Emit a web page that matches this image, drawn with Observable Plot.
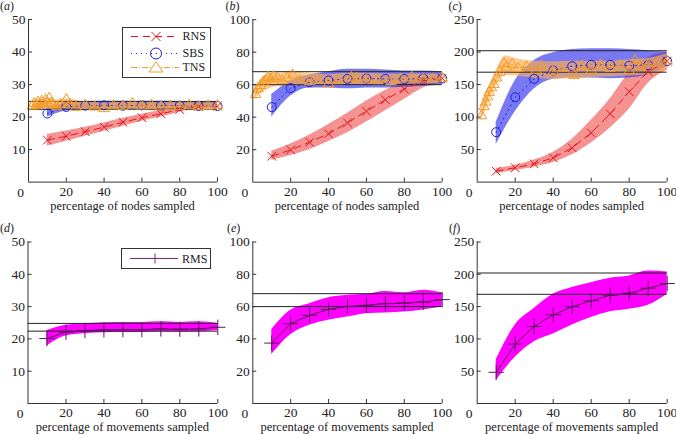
<!DOCTYPE html>
<html><head><meta charset="utf-8">
<script src="https://cdn.jsdelivr.net/npm/d3@7"></script>
<script src="https://cdn.jsdelivr.net/npm/@observablehq/plot@0.6"></script>
<style>
body{margin:0;background:#fff;}
#fig{position:relative;width:676px;height:434px;overflow:hidden;font-family:"Liberation Serif","Times New Roman",serif;color:#222;}
.panel{position:absolute;}
.plab{position:absolute;font-size:12px;line-height:12px;}
.xlab{position:absolute;font-size:12.5px;line-height:13px;text-align:center;width:240px;white-space:nowrap;}
.legend{position:absolute;background:#fff;border:1px solid #333;box-sizing:border-box;}
.legend svg{position:absolute;left:0;top:0;}
.legend span{position:absolute;font-size:12px;line-height:12px;}
</style></head><body><div id="fig"></div>
<script>
// ---------- data ----------
const xs = [10,20,30,40,50,60,70,80,90,100];
const xTicks = [20,40,60,80,100];

// panel (a)
const aRNS   = [12.9,14.1,15.5,16.9,18.4,19.8,21.0,22.3,23.2,23.4];
const aRNSlo = [11.1,12.6,14.1,15.6,17.2,18.7,20.0,21.5,22.6,23.0];
const aRNShi = [14.6,15.7,16.9,18.2,19.6,20.9,22.0,23.1,23.8,23.8];
const aSBS   = [21.1,23.1,23.5,23.6,23.5,23.6,23.5,23.5,23.4,23.4];
const aSBSlo = [20.0,21.9,22.4,22.4,22.4,22.4,22.4,22.4,22.6,22.8];
const aSBShi = [22.2,24.4,24.8,24.9,24.9,24.9,24.9,24.8,24.7,24.5];
const aTNSx  = [2,3,4,5,6,7,8,9,10,11,12,13,15,17,20,22,25,30,35,40,45,50,55,60,65,70,75,80,85,90,95,100];
const aTNS   = [23.4,24.2,23.6,24.6,23.9,24.9,24.1,25.2,24.4,25.8,24.3,23.8,23.2,23.9,25.4,23.9,23.0,23.6,23.1,22.6,23.5,23.3,24.2,23.4,23.6,23.1,23.3,23.2,23.6,23.3,23.4,23.5];
const aTNSbx = [2,5,10,15,20,30,40,50,60,70,80,90,100];
const aTNSlo = [22.2,22.3,22.4,22.3,22.5,22.3,22.1,22.4,22.4,22.5,22.5,22.6,22.7];
const aTNShi = [25.0,25.4,25.8,25.2,25.6,24.6,24.2,24.6,24.5,24.4,24.3,24.3,24.3];
const aRef   = [22.4,24.8];
const aYTicks = [10,20,30,40,50];

// panel (b)
const bRNS   = [16.0,19.9,24.6,29.8,36.5,43.7,50.7,57.3,62.5,64.0];
const bRNSlo = [13.5,16.5,20.0,25.0,30.5,37.0,44.0,51.0,58.0,61.0];
const bRNShi = [19.0,23.5,29.0,35.5,42.5,50.0,56.5,62.0,64.5,65.5];
const bSBS   = [46.2,57.9,61.5,62.6,63.6,63.8,63.5,63.5,63.8,63.8];
const bSBSlo = [40,53,58,58,57.5,58,58,58.5,59,60];
const bSBShi = [54,62.5,66,68,69.5,69.5,69,68.5,68.5,68];
const bTNSx  = [1.5,2.7,4.1,5.5,6.7,8,9.4,11,13,15.5,18,21,25,30,34,40,45,52,55,60,66,73,78,84,90,95,100];
const bTNS   = [54,57.5,59.5,61.5,62.5,64.5,63.5,65,64,62.5,64,66,62.5,62,63.5,60.5,62.5,64.5,64,63,62.5,62,63.5,64.5,63.5,63.5,64];
const bTNSbx = [1,5,10,15,20,30,40,50,60,70,80,90,100];
const bTNSlo = [51,55,58,59,59.5,59.5,59.5,60,60,60,60.5,60.5,61];
const bTNShi = [58,64,67,67,68,67,66,67,67,66.5,66.5,66.5,66];
const bRef   = [60,68];
const bYTicks = [20,40,60,80,100];

// panel (c)
const cRNS   = [16.8,22.0,28.1,37.3,52.7,75.7,105,139,170,186];
const cRNSlo = [13,18,23,30,42,60,83,112,152,172];
const cRNShi = [21,26,34,46,66,95,128,168,192,200];
const cSBS   = [76.7,130.5,158.8,171.6,178.2,180.3,180.3,179,180,186];
const cSBSlo = [58,108,143,158,160,160,159,160,165,178];
const cSBShi = [92,156,187,199,204,205,205,204,202,200];
const cTNSx  = [2.3,3.5,4.5,5.4,6.3,7.5,8.8,10.2,12,14.1,15.5,18.5,21.6,26,31,34,40,45,51,55,60,65,70,75,80,83,86,90,95,100];
const cTNS   = [102,116,123,131,138,145,150,160,169,182,177,181,175,177,172,178,170,175,164,178,172,180,175,180,171,187,178,180,183,186];
const cTNSbx = [2,5,10,15,20,30,40,50,60,70,80,90,100];
const cTNSlo = [93,115,148,164,163,160,158,159,161,162,163,165,172];
const cTNShi = [112,135,172,194,190,186,185,186,186,186,188,190,197];
const cRef   = [169,202];
const cYTicks = [50,100,150,200,250];

// panels (d)-(f)
const dRMS   = [20.1,22.1,22.6,22.8,22.9,22.9,23.1,23.0,23.1,23.6];
const dRMSlo = [17.8,20.9,21.6,21.9,22.0,22.0,22.2,22.1,22.2,22.6];
const dRMShi = [22.6,24.2,24.7,25.0,25.1,25.1,25.3,25.1,25.3,24.8];
const eRMS   = [37.4,49.4,54.6,58.3,60.1,60.8,61.8,62.2,62.8,64.3];
const eRMSlo = [30.4,42.6,48.4,51.5,53.5,55.6,56.0,56.6,57.9,59.7];
const eRMShi = [45.7,57.7,61.8,65.5,67.0,67.6,69.4,68.6,70.2,68.6];
const fRMS   = [48.3,92,119.3,137.3,149.7,159,167.7,170.8,178.5,185.7];
const fRMSlo = [35.5,71.5,95.7,107.6,121.4,133,142,146,152,169.3];
const fRMShi = [67.9,121.4,147,169,179.5,187,194,197.5,205,203.7];

const panelLabels = ["a","b","c","d","e","f"];
const xLabelTop = "percentage of nodes sampled";
const xLabelBottom = "percentage of movements sampled";
const legendTop = ["RNS","SBS","TNS"];
const legendBottom = ["RMS"];

// ---------- styles ----------
const C = {
  rns:"#e5141c", rnsBand:"#f26d6d",
  sbs:"#1d1dd6", sbsBand:"#4040f0",
  tns:"#f59a23", tnsBand:"#fdae55",
  rms:"#5e145e", rmsBand:"#ff00ff"
};
const FONT = '"Liberation Serif","Times New Roman",serif';
const TICK_FS = 13.5;

const rows = (x, y, lo, hi) => x.map((d,i) => ({x:d, y:y ? y[i] : null, lo: lo ? lo[i] : null, hi: hi ? hi[i] : null}));

function nodesLayers(rns, rnsLo, rnsHi, sbs, sbsLo, sbsHi, tnsX, tns, tnsBX, tnsLo, tnsHi, ref) {
  const R = rows(xs, rns, rnsLo, rnsHi), S = rows(xs, sbs, sbsLo, sbsHi);
  const T = rows(tnsX, tns), TB = rows(tnsBX, null, tnsLo, tnsHi);
  return [
    Plot.areaY(R, {x:"x", y1:"lo", y2:"hi", fill:C.rnsBand, fillOpacity:0.75, curve:"monotone-x"}),
    Plot.areaY(S, {x:"x", y1:"lo", y2:"hi", fill:C.sbsBand, fillOpacity:0.7, curve:"monotone-x"}),
    Plot.areaY(TB, {x:"x", y1:"lo", y2:"hi", fill:C.tnsBand, fillOpacity:0.65, curve:"monotone-x"}),
    Plot.ruleY(ref, {stroke:"#222", strokeWidth:1}),
    Plot.line(R, {x:"x", y:"y", stroke:C.rns, strokeWidth:1, strokeDasharray:"7,5"}),
    Plot.dot(R, {x:"x", y:"y", symbol:"times", r:4, stroke:C.rns, strokeWidth:1}),
    Plot.line(S, {x:"x", y:"y", stroke:C.sbs, strokeWidth:1, strokeDasharray:"1,4"}),
    Plot.dot(S, {x:"x", y:"y", r:4.5, stroke:C.sbs, fill:"none", strokeWidth:1}),
    Plot.line(T, {x:"x", y:"y", stroke:C.tns, strokeWidth:1, strokeDasharray:"6,2,1,2"}),
    Plot.dot(T, {x:"x", y:"y", symbol:"triangle2", r:5, stroke:C.tns, fill:"none", strokeWidth:1})
  ];
}
function movesLayers(rms, lo, hi, ref) {
  const M = rows(xs, rms, lo, hi);
  return [
    Plot.areaY(M, {x:"x", y1:"lo", y2:"hi", fill:C.rmsBand, curve:"monotone-x"}),
    Plot.ruleY(ref, {stroke:"#222", strokeWidth:1}),
    Plot.line(M, {x:"x", y:"y", stroke:C.rms, strokeWidth:1}),
    Plot.dot(M, {x:"x", y:"y", symbol:"plus", r:5, stroke:C.rms, strokeWidth:1})
  ];
}

// layout: geo = [left, top, axisX, rightX, frameTop, frameBottom], lab = [labelLeft, labelTop]
const panels = [
  {geo:[0,0,28,217,19,181.6], lab:[0,0], yMax:50, yTicks:aYTicks, layers:nodesLayers(aRNS,aRNSlo,aRNShi,aSBS,aSBSlo,aSBShi,aTNSx,aTNS,aTNSbx,aTNSlo,aTNShi,aRef), xl:xLabelTop},
  {geo:[225,0,252.3,441.7,19.2,181.7], lab:[225.5,0], yMax:100, yTicks:bYTicks, layers:nodesLayers(bRNS,bRNSlo,bRNShi,bSBS,bSBSlo,bSBShi,bTNSx,bTNS,bTNSbx,bTNSlo,bTNShi,bRef), xl:xLabelTop},
  {geo:[450,0,476.7,666.7,19,181.6], lab:[448.5,0], yMax:250, yTicks:cYTicks, layers:nodesLayers(cRNS,cRNSlo,cRNShi,cSBS,cSBSlo,cSBShi,cTNSx,cTNS,cTNSbx,cTNSlo,cTNShi,cRef), xl:xLabelTop},
  {geo:[0,217,27.5,217.3,241.5,403], lab:[0,222], yMax:50, yTicks:aYTicks, layers:movesLayers(dRMS,dRMSlo,dRMShi,aRef), xl:xLabelBottom},
  {geo:[225,217,252.3,441.7,241.5,403], lab:[227,222], yMax:100, yTicks:bYTicks, layers:movesLayers(eRMS,eRMSlo,eRMShi,bRef), xl:xLabelBottom},
  {geo:[450,217,476.7,666.7,241.5,403], lab:[449,222], yMax:250, yTicks:cYTicks, layers:movesLayers(fRMS,fRMSlo,fRMShi,cRef), xl:xLabelBottom}
];

const fig = document.getElementById("fig");
panels.forEach((p, i) => {
  const [left, top, ax, rx, ft, fb] = p.geo;
  const width = Math.round(rx - left + 9), height = 217;
  const chart = Plot.plot({
    width, height,
    marginLeft: ax - left, marginRight: width - (rx - left),
    marginTop: ft - top, marginBottom: top + height - fb,
    x: {domain:[0,100]},
    y: {domain:[0,p.yMax]},
    style: {fontFamily:FONT, fontSize:TICK_FS + "px", color:"#222", background:"transparent", overflow:"visible"},
    marks: [
      ...p.layers,
      Plot.ruleX([0], {stroke:"#333", strokeWidth:1}),
      Plot.ruleY([0], {stroke:"#333", strokeWidth:1}),
      Plot.axisY(p.yTicks, {tickSize:-4, tickPadding:7, fontSize:TICK_FS, label:null, stroke:"#333"}),
      Plot.axisX(xTicks, {tickSize:-4, tickPadding:8, fontSize:TICK_FS, label:null, stroke:"#333"}),
      Plot.text([0], {x:d=>d, frameAnchor:"bottom", text:d=>String(d), dx:-8, dy:10.5, fontSize:TICK_FS, lineAnchor:"middle"})
    ]
  });
  chart.classList.add("panel");
  chart.style.left = left + "px";
  chart.style.top = top + "px";
  fig.appendChild(chart);

  const lab = document.createElement("div");
  lab.className = "plab";
  lab.innerHTML = "(<i>" + panelLabels[i] + "</i>)";
  lab.style.left = p.lab[0] + "px";
  lab.style.top = p.lab[1] + "px";
  fig.appendChild(lab);

  const xl = document.createElement("div");
  xl.className = "xlab";
  xl.textContent = p.xl;
  xl.style.left = ((ax + rx) / 2 - 120) + "px";
  xl.style.top = (fb + 18) + "px";
  fig.appendChild(xl);
});

// legends
function legend(left, top, w, h, names, styles) {
  const box = document.createElement("div");
  box.className = "legend";
  Object.assign(box.style, {left:left+"px", top:top+"px", width:w+"px", height:h+"px"});
  const ns = "http://www.w3.org/2000/svg";
  const svg = document.createElementNS(ns, "svg");
  svg.setAttribute("width", w); svg.setAttribute("height", h);
  box.appendChild(svg);
  names.forEach((n, k) => {
    const s = styles[k];
    const y = s.y;
    const line = document.createElementNS(ns, "line");
    Object.entries({x1:8, x2:56, y1:y, y2:y, stroke:s.color, "stroke-width":1, "stroke-dasharray":s.dash || null}).forEach(([a,v]) => v !== null && line.setAttribute(a, v));
    svg.appendChild(line);
    const m = document.createElementNS(ns, "path");
    const cx = 33, r = s.r;
    let d;
    if (s.shape === "times") d = `M${cx-r},${y-r}L${cx+r},${y+r}M${cx-r},${y+r}L${cx+r},${y-r}`;
    else if (s.shape === "plus") d = `M${cx-r},${y}L${cx+r},${y}M${cx},${y-r}L${cx},${y+r}`;
    else if (s.shape === "circle") d = `M${cx+r},${y}A${r},${r} 0 1,1 ${cx-r},${y}A${r},${r} 0 1,1 ${cx+r},${y}`;
    else d = `M${cx},${y-r}L${cx+r*1.15},${y+r*0.75}L${cx-r*1.15},${y+r*0.75}Z`;
    m.setAttribute("d", d); m.setAttribute("fill", s.fill || "none");
    m.setAttribute("stroke", s.color); m.setAttribute("stroke-width", 1);
    svg.appendChild(m);
    const t = document.createElement("span");
    t.textContent = n;
    t.style.left = "60px"; t.style.top = (y - 6) + "px";
    box.appendChild(t);
  });
  fig.appendChild(box);
}
legend(121.5, 26.5, 89, 51, legendTop, [
  {y:8.5, color:C.rns, dash:"7,5", shape:"times", r:4.5},
  {y:25.5, color:C.sbs, dash:"1,4", shape:"circle", r:5.5},
  {y:39.5, color:C.tns, dash:"6,2,1,2", shape:"triangle", r:6, fill:"#fff"}
]);
legend(121, 248, 90, 21, legendBottom, [
  {y:9.5, color:"#7a2a7a", shape:"plus", r:5}
]);
</script>
</body></html>
